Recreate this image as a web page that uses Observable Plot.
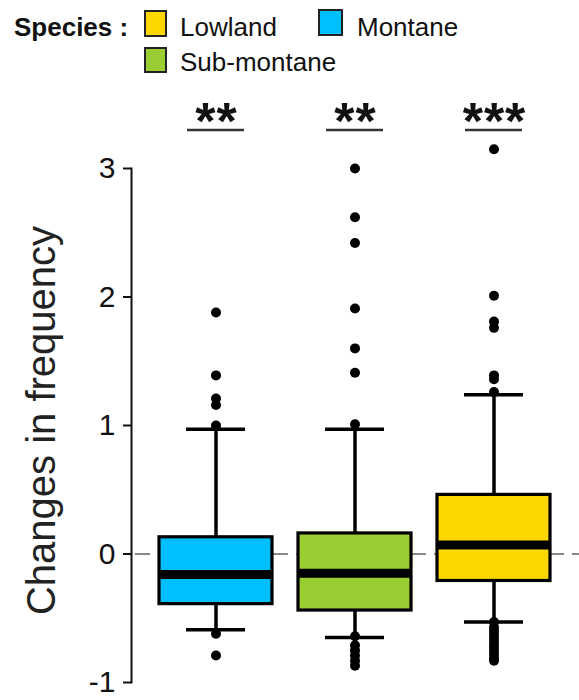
<!DOCTYPE html>
<html>
<head>
<meta charset="utf-8">
<script src="https://cdn.jsdelivr.net/npm/d3@7"></script>
<script src="https://cdn.jsdelivr.net/npm/@observablehq/plot@0.6"></script>
<style>
  html, body { margin: 0; padding: 0; background: #fff; }
  body { width: 579px; height: 700px; overflow: hidden; font-family: "Liberation Sans", Arial, sans-serif; color: #111; }
  #legend { position: relative; height: 80px; width: 579px; }
  #legend .t { position: absolute; font-size: 26px; line-height: 26px; white-space: nowrap; }
  #legend .sw { position: absolute; box-sizing: border-box; border: 2.5px solid #222; }
  #chart svg { display: block; }
</style>
</head>
<body>
<div id="legend"></div>
<div id="chart"></div>
<script>
// ---- data ----
const species = ["Montane", "Sub-montane", "Lowland"];
const speciesColors = ["#00BFFF", "#9ACD32", "#FFD700"];
const q1 = [-0.39, -0.44, -0.21];
const medians = [-0.16, -0.15, 0.07];
const q3 = [0.13, 0.16, 0.46];
const whiskerLow = [-0.59, -0.65, -0.53];
const whiskerHigh = [0.97, 0.97, 1.24];
const montaneOutliers = [1.88, 1.39, 1.21, 1.16, 1.0, -0.62, -0.79];
const subMontaneOutliers = [3.0, 2.62, 2.42, 1.91, 1.60, 1.41, 1.01, -0.64, -0.71, -0.75, -0.79, -0.83, -0.87];
const lowlandOutliers = [3.15, 2.01, 1.81, 1.76, 1.39, 1.36, 1.26, -0.53, -0.57, -0.60, -0.63, -0.66, -0.69, -0.72, -0.75, -0.78, -0.81, -0.83];
const significance = ["**", "**", "***"];
const yTicks = [-1, 0, 1, 2, 3];
const legendOrder = ["Lowland", "Montane", "Sub-montane"];

// ---- tables built from the arrays ----
const boxes = species.map((s, i) => ({
  species: s, q1: q1[i], median: medians[i], q3: q3[i],
  lo: whiskerLow[i], hi: whiskerHigh[i], sig: significance[i]
}));
const outlierLists = [montaneOutliers, subMontaneOutliers, lowlandOutliers];
const outliers = species.flatMap((s, i) => outlierLists[i].map(v => ({species: s, value: v})));
const sigLevel = 3.36;   // star row, in data units above the plot
const sigLine = 3.30;    // underline row

// ---- legend (HTML, above the SVG) ----
const legend = document.getElementById("legend");
function addText(txt, left, top, bold) {
  const d = document.createElement("div");
  d.className = "t"; d.textContent = txt;
  d.style.left = left + "px"; d.style.top = top + "px";
  if (bold) d.style.fontWeight = "bold";
  legend.appendChild(d);
}
function addSwatch(color, left, top, w, h) {
  const d = document.createElement("div");
  d.className = "sw"; d.style.background = color;
  d.style.left = left + "px"; d.style.top = top + "px";
  d.style.width = w + "px"; d.style.height = h + "px";
  legend.appendChild(d);
}
const colorOf = s => speciesColors[species.indexOf(s)];
addText("Species :", 14, 14, true);
addSwatch(colorOf(legendOrder[0]), 144, 10, 23, 27);
addText(legendOrder[0], 180, 14);
addSwatch(colorOf(legendOrder[1]), 318, 9, 25, 27);
addText(legendOrder[1], 357, 14);
addSwatch(colorOf(legendOrder[2]), 144, 47, 23, 26);
addText(legendOrder[2], 180, 49);

// ---- chart ----
const font = "'Liberation Sans', Arial, sans-serif";
const chart = Plot.plot({
  width: 579,
  height: 620,
  marginLeft: 131,
  marginRight: 0,
  marginTop: 88,
  marginBottom: 18,
  style: {fontFamily: font, color: "#111", background: "white", overflow: "visible"},
  x: {type: "band", domain: species, range: [145, 564], padding: 0, axis: null},
  y: {domain: [-1, 3], axis: null},
  color: {domain: species, range: speciesColors},
  marks: [
    Plot.ruleY([0], {stroke: "#888", strokeWidth: 2, strokeDasharray: "15 8", strokeDashoffset: -4}),
    Plot.frame({anchor: "left", stroke: "#111", strokeWidth: 2}),
    Plot.axisY({ticks: yTicks, tickSize: 8, tickPadding: 8, fontSize: 30, stroke: "#111", strokeWidth: 2, tickFormat: d => String(d), label: null}),
    Plot.text(["Changes in frequency"], {frameAnchor: "left", rotate: -90, dx: -89, dy: -5, fontSize: 40, fill: "#222", textAnchor: "middle", lineAnchor: "middle"}),
    Plot.ruleX(boxes, {x: "species", y1: "q3", y2: "hi", stroke: "black", strokeWidth: 3.5}),
    Plot.ruleX(boxes, {x: "species", y1: "lo", y2: "q1", stroke: "black", strokeWidth: 3.5}),
    Plot.tickY(boxes, {x: "species", y: "hi", stroke: "black", strokeWidth: 3.5, insetLeft: 40, insetRight: 40}),
    Plot.tickY(boxes, {x: "species", y: "lo", stroke: "black", strokeWidth: 3.5, insetLeft: 40, insetRight: 40}),
    Plot.barY(boxes, {x: "species", y1: "q1", y2: "q3", fill: "species", stroke: "black", strokeWidth: 3.2, insetLeft: 13, insetRight: 13}),
    Plot.tickY(boxes, {x: "species", y: "median", stroke: "black", strokeWidth: 9, insetLeft: 14, insetRight: 14}),
    Plot.dot(outliers, {x: "species", y: "value", r: 5, fill: "black", stroke: "none"}),
    Plot.text(boxes, {x: "species", y: () => sigLevel, text: "sig", fontSize: 52, fontWeight: "bold", fill: "#111", lineAnchor: "middle", dx: 0.5}),
    Plot.tickY(boxes, {x: "species", y: () => sigLine, stroke: "#333", strokeWidth: 2.5, insetLeft: 41, insetRight: 41})
  ]
});
chart.querySelectorAll("text").forEach(t => { if (t.textContent.includes("*")) t.style.letterSpacing = "1px"; });
document.getElementById("chart").appendChild(chart);
</script>
</body>
</html>
